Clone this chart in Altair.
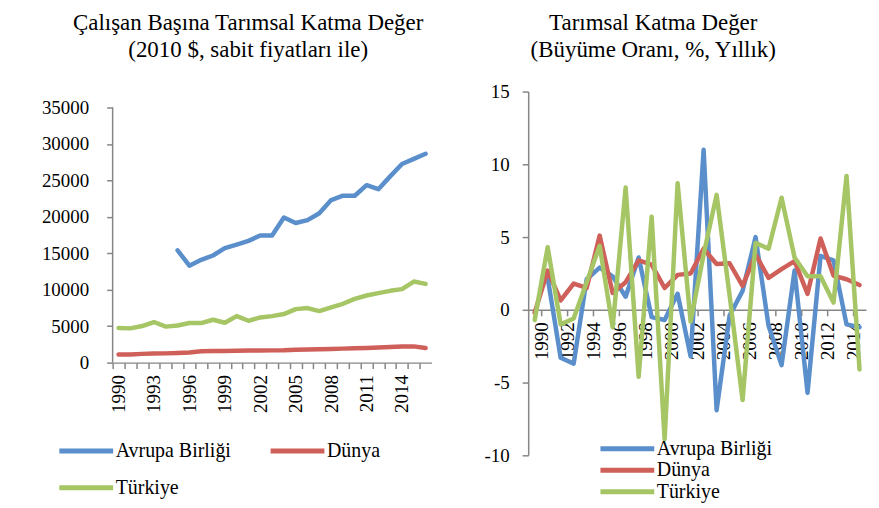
import altair as alt
import pandas as pd

SERIES = ["Avrupa Birliği", "Dünya", "Türkiye"]
COLORS = ["#5B8FCB", "#CF5F59", "#A6C565"]

# Left panel: value added per worker (2010 $)
years_left = list(range(1990, 2017))
eu_left = [None] * 5 + [15400, 13300, 14100, 14700, 15700, 16200, 16700, 17450, 17450, 19900,
                        19150, 19550, 20500, 22300, 22900, 22900, 24350, 23800, 25550, 27250,
                        27950, 28650]
world_left = [1100, 1110, 1200, 1250, 1270, 1330, 1400, 1550, 1580, 1600, 1640, 1660, 1670, 1680,
              1700, 1780, 1800, 1840, 1880, 1920, 1980, 2020, 2060, 2130, 2200, 2230, 2000]
tr_left = [4750, 4700, 5020, 5570, 4940, 5100, 5430, 5430, 5880, 5470, 6380, 5740, 6200, 6380,
           6660, 7340, 7480, 7070, 7570, 8070, 8750, 9210, 9530, 9850, 10080, 11120, 10800]
left_ticks = [0, 5000, 10000, 15000, 20000, 25000, 30000, 35000]

# Right panel: agricultural value added growth (% annual)
years_right = list(range(1990, 2016))
eu_right = [None, 2.2, -3.3, -3.7, 2.1, 2.9, 2.3, 0.9, 3.6, -0.5, -0.7, 1.1, -3.2, 11.0, -6.9,
            -0.4, 1.3, 5.0, -1.1, -3.8, 2.7, -5.7, 3.7, 3.4, -1.0, -1.2]
world_right = [-0.2, 2.7, 0.65, 1.8, 1.5, 5.1, 1.15, 1.9, 3.4, 3.1, 1.5, 2.4, 2.5, 4.2, 3.15,
               3.2, 1.65, 3.8, 2.2, 2.8, 3.35, 1.1, 4.9, 2.35, 2.1, 1.7]
tr_right = [-0.7, 4.3, -1.0, -0.6, 1.9, 4.4, -1.2, 8.4, -4.6, 6.4, -8.9, 8.7, -0.8, 3.8, 7.9,
            1.0, -6.2, 4.6, 4.2, 7.7, 3.6, 2.3, 2.3, 0.5, 9.2, -4.1]
right_ticks = [-10, -5, 0, 5, 10, 15]

left_title = ["Çalışan Başına Tarımsal Katma Değer", "(2010 $, sabit fiyatları ile)"]
right_title = ["Tarımsal Katma Değer", "(Büyüme Oranı, %, Yıllık)"]


def to_long(years, lists):
    rows = []
    for name, vals in zip(SERIES, lists):
        for y, v in zip(years, vals):
            if v is not None:
                rows.append({"year": y, "series": name, "value": v})
    return pd.DataFrame(rows)


df_left = to_long(years_left, [eu_left, world_left, tr_left])
df_right = to_long(years_right, [eu_right, world_right, tr_right])
df_axis_left = pd.DataFrame({"value": [left_ticks[0]], "hi": [left_ticks[-1]]})

FONT = "Liberation Serif"
GREY = "#868686"
LEG_SYMBOL = "M-3.375,0H3.375"   # 54 px wide line at symbolSize 256

legend_common = dict(title=None, orient="none", symbolType=LEG_SYMBOL, symbolSize=256,
                     symbolStrokeWidth=5, labelOffset=19, labelFontSize=20, labelFont=FONT,
                     labelColor="black", labelLimit=300, padding=0)

# ---------- left panel ----------
W_L, H_L = 320, 272
step_l = W_L / len(years_left)
y_scale_l = alt.Scale(domain=[0, 35000 * H_L / 256], nice=False)
y_axis_l = alt.Axis(values=left_ticks, labelExpr="''+datum.value",
                    domain=False, tickSize=6, labelPadding=18, title=None,
                    labelFont=FONT, labelFontSize=19, labelOverlap=False)
line_l = alt.Chart(df_left).mark_line(strokeWidth=4.5, strokeCap="round", strokeJoin="round").encode(
    x=alt.X("year:Q",
            scale=alt.Scale(domain=[1989.5, 2016.5], nice=False, zero=False),
            axis=alt.Axis(values=list(range(1990, 2018)), tickOffset=-step_l / 2, labelOffset=step_l / 2,
                          labelExpr="(datum.value-1990)%3==0 && datum.value<=2016 ? ''+datum.value : ''",
                          labelAngle=270, labelPadding=6, tickSize=6, title=None,
                          labelFont=FONT, labelFontSize=19, labelOverlap=False)),
    y=alt.Y("value:Q", scale=y_scale_l, axis=y_axis_l),
    color=alt.Color("series:N", scale=alt.Scale(domain=SERIES, range=COLORS),
                    legend=alt.Legend(legendX=-37, legendY=350, direction="horizontal", columns=2,
                                      columnPadding=29, rowPadding=16, **legend_common)),
)
ydomain_l = alt.Chart(df_axis_left).mark_rule(color=GREY, strokeWidth=1.5).encode(
    x=alt.value(0),
    y=alt.Y("value:Q", scale=y_scale_l, axis=y_axis_l),
    y2="hi:Q",
)
left = alt.layer(line_l, ydomain_l).properties(
    width=W_L, height=H_L,
    title=alt.TitleParams(text=left_title, fontSize=23, font=FONT, fontWeight="normal", color="black",
                          anchor="middle", dx=-24, offset=30, lineHeight=27),
)

# ---------- right panel ----------
W_R, H_R = 339, 365
line_r = alt.Chart(df_right).mark_line(strokeWidth=4.5, strokeCap="round", strokeJoin="round").encode(
    x=alt.X("year:Q",
            scale=alt.Scale(domain=[1989.5, 2015.5], nice=False, zero=False),
            axis=alt.Axis(values=[y + 0.5 for y in range(1990, 2015, 2)],
                          labelExpr="''+floor(datum.value)", labelAngle=270, labelPadding=6,
                          tickSize=6, offset=-146, title=None,
                          labelFont=FONT, labelFontSize=19, labelOverlap=False)),
    y=alt.Y("value:Q",
            scale=alt.Scale(domain=[-10, 15], nice=False, zero=False),
            axis=alt.Axis(values=right_ticks, labelExpr="''+datum.value",
                          tickSize=6, labelPadding=13, title=None,
                          labelFont=FONT, labelFontSize=19, labelOverlap=False)),
    color=alt.Color("series:N", scale=alt.Scale(domain=SERIES, range=COLORS),
                    legend=alt.Legend(legendX=89, legendY=348, direction="vertical",
                                      rowPadding=0.5, **legend_common)),
)
right = line_r.properties(
    width=W_R, height=H_R,
    title=alt.TitleParams(text=right_title, fontSize=23, font=FONT, fontWeight="normal", color="black",
                          anchor="middle", dx=-44, offset=21, lineHeight=27),
)

chart = alt.hconcat(left, right, spacing=47).resolve_scale(color="independent").properties(
    padding={"left": 33, "top": 3, "right": 5, "bottom": 0},
).configure_view(stroke=None).configure_axis(
    grid=False, domainColor=GREY, domainWidth=1.5, tickColor=GREY, tickWidth=1.5,
    labelFont=FONT, labelFontSize=19, labelColor="black",
)

chart.save("out.html", embed_options={"renderer": "svg", "actions": False})
